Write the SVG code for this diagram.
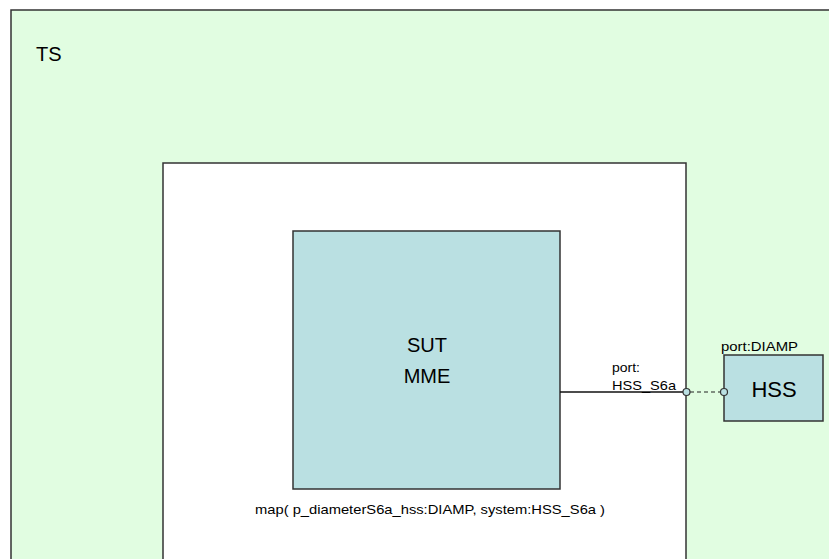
<svg xmlns="http://www.w3.org/2000/svg" width="829" height="559" viewBox="0 0 829 559">
<style>
.box{stroke:#333;stroke-width:1.5}
.t{font-family:"Liberation Sans",Arial,sans-serif;fill:#000}
.port{fill:#bae0e2;stroke:#333;stroke-width:1.2}
</style>
<rect width="829" height="559" fill="#fff"/>
<g id="TS">
<rect class="box" x="11" y="10" width="830" height="560" fill="#e1fde1"/>
<text class="t" x="36" y="61" font-size="20">TS</text>
</g>
<g id="system">
<rect class="box" x="163" y="163" width="523" height="410" fill="#fff"/>
<text class="t" x="255" y="514" font-size="13.5" textLength="350" lengthAdjust="spacingAndGlyphs">map( p_diameterS6a_hss:DIAMP, system:HSS_S6a )</text>
</g>
<g id="SUT">
<rect class="box" x="293" y="231" width="267" height="258" fill="#bae0e2"/>
<text class="t" x="427" y="352" font-size="20" text-anchor="middle">SUT</text>
<text class="t" x="427" y="383" font-size="20" text-anchor="middle">MME</text>
</g>
<g id="HSS">
<rect class="box" x="724" y="355" width="99" height="66" fill="#bae0e2"/>
<text class="t" x="774" y="397" font-size="22" text-anchor="middle">HSS</text>
<text class="t" x="721" y="351" font-size="13" textLength="77" lengthAdjust="spacingAndGlyphs">port:DIAMP</text>
</g>
<g id="connectors">
<line x1="560" y1="392" x2="683" y2="392" stroke="#111" stroke-width="1.5"/>
<line x1="690" y1="392" x2="720" y2="392" stroke="#222" stroke-width="1.2" stroke-dasharray="4,3"/>
<circle class="port" cx="686.5" cy="392" r="3.5"/>
<circle class="port" cx="724" cy="392" r="3.5"/>
<text class="t" x="612" y="372" font-size="13.5" textLength="28" lengthAdjust="spacingAndGlyphs">port:</text>
<text class="t" x="612" y="390" font-size="13.5" textLength="64" lengthAdjust="spacingAndGlyphs">HSS_S6a</text>
</g>
</svg>
